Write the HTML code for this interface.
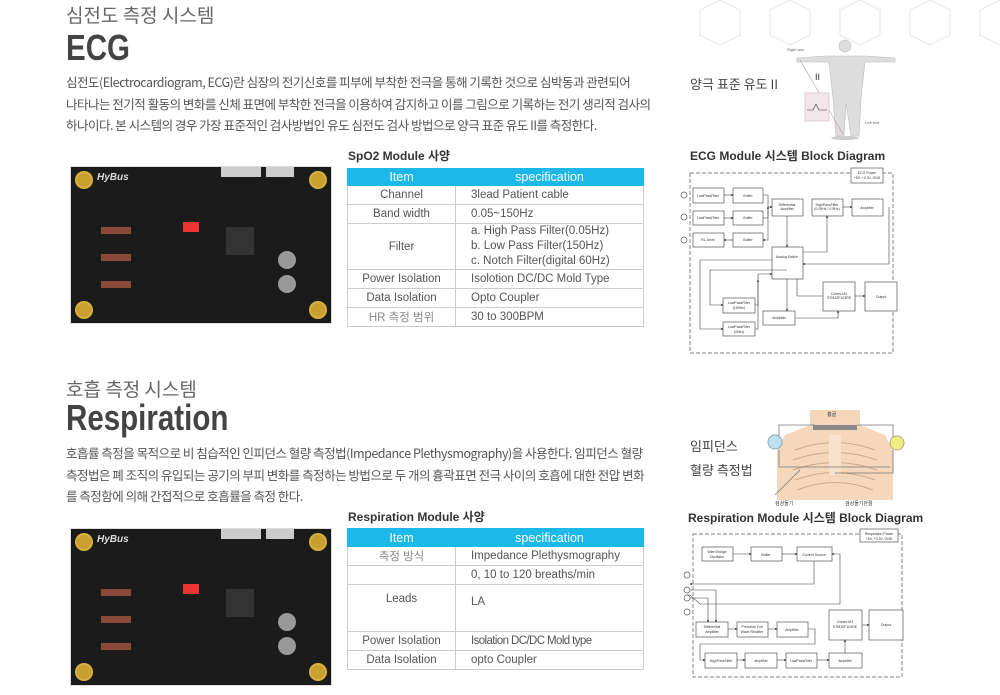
<!DOCTYPE html>
<html><head><meta charset="utf-8"><style>
body{margin:0;width:1000px;height:695px;background:#fff;position:relative;overflow:hidden;font-family:"Liberation Sans","Noto Sans CJK KR",sans-serif;color:#555}
.a{position:absolute;white-space:nowrap}
.h1{font-size:19px;line-height:22px;color:#666;font-family:"Noto Sans CJK KR",sans-serif}
.big{font-size:36px;line-height:36px;font-weight:bold;color:#444;font-family:"Liberation Sans",sans-serif;transform:scaleX(0.82);transform-origin:0 0}
.p{font-size:12.5px;color:#555;line-height:21.5px;font-family:"Noto Sans CJK KR",sans-serif;letter-spacing:-0.5px}
.t{font-size:12px;font-weight:bold;color:#333;font-family:"Liberation Sans","Noto Sans CJK KR",sans-serif}
table{position:absolute;border-collapse:collapse;font-size:11.5px;color:#555;font-family:"Liberation Sans","Noto Sans CJK KR",sans-serif}
td{border:1px solid #ccc;padding:0;vertical-align:middle}
td.i{text-align:center;width:107px}
td.s{padding-left:15px}
tr.hd td{background:#1bb8e8;color:#fff;text-align:center;font-size:12.5px;border-color:#1bb8e8}
.pcb{position:absolute;background:#1b1b1b;border:1px solid #ddd}
.hole{position:absolute;width:14px;height:14px;border-radius:50%;background:#c8a030;border:2px solid #d8b040}
</style></head><body>
<svg class="a" style="left:680px;top:0" width="320" height="60"><g fill="none" stroke="#eee" stroke-width="1.5">
<polygon points="20,10 40,0 60,10 60,35 40,45 20,35"/><polygon points="90,10 110,0 130,10 130,35 110,45 90,35"/><polygon points="160,10 180,0 200,10 200,35 180,45 160,35"/><polygon points="230,10 250,0 270,10 270,35 250,45 230,35"/><polygon points="300,10 320,0 340,10 340,35 320,45 300,35"/></g></svg>

<div class="a h1" style="left:66px;top:4px">심전도 측정 시스템</div>
<div class="a big" style="left:66px;top:30px">ECG</div>
<div class="a p" style="left:66px;top:71px">심전도(Electrocardiogram, ECG)란 심장의 전기신호를 피부에 부착한 전극을 통해 기록한 것으로 심박동과 관련되어<br>나타나는 전기적 활동의 변화를 신체 표면에 부착한 전극을 이용하여 감지하고 이를 그림으로 기록하는 전기 생리적 검사의<br>하나이다. 본 시스템의 경우 가장 표준적인 검사방법인 유도 심전도 검사 방법으로 양극 표준 유도 II를 측정한다.</div>

<div class="a" style="left:690px;top:74px;font-size:13px;color:#444;font-family:'Noto Sans CJK KR',sans-serif">양극 표준 유도 II</div>
<svg class="a" style="left:785px;top:38px" width="115" height="102">
<g fill="#ddd" stroke="#bbb" stroke-width="0.6">
<circle cx="60" cy="8" r="6"/>
<path d="M40,18 L80,18 L110,20 L110,24 L80,24 L76,60 L74,98 L66,98 L61,65 L59,98 L51,98 L48,60 L44,24 L12,24 L12,20 Z"/>
</g><ellipse cx="60" cy="100" rx="14" ry="2" fill="#ccc"/>
<line x1="15" y1="22" x2="58" y2="96" stroke="#b99" stroke-width="0.6"/>
<rect x="20" y="55" width="24" height="28" fill="#f3e6ea" stroke="#dcc"/>
<path d="M22,72 l6,0 l3,-6 l3,6 l8,0" fill="none" stroke="#333" stroke-width="0.6"/>
<text x="30" y="42" font-size="9" fill="#333" font-family="Liberation Sans">II</text>
<text x="2" y="13" font-size="4" fill="#666" font-family="Liberation Sans">Right arm</text>
<text x="80" y="86" font-size="4" fill="#666" font-family="Liberation Sans">Left foot</text>
</svg>

<div class="pcb" style="left:70px;top:166px;width:260px;height:156px">
<div class="hole" style="left:4px;top:4px"></div><div class="hole" style="left:238px;top:4px"></div><div class="hole" style="left:4px;top:134px"></div><div class="hole" style="left:238px;top:134px"></div>
<div class="a" style="left:26px;top:5px;color:#ddd;font-style:italic;font-weight:bold;font-size:10px">HyBus</div>
<div class="a" style="left:112px;top:55px;width:16px;height:10px;background:#e33"></div>
<div class="a" style="left:155px;top:60px;width:28px;height:28px;background:#333"></div>
<div class="a" style="left:30px;top:60px;width:30px;height:7px;background:#8a4a3a"></div>
<div class="a" style="left:30px;top:87px;width:30px;height:7px;background:#8a4a3a"></div>
<div class="a" style="left:30px;top:114px;width:30px;height:7px;background:#8a4a3a"></div>
<div class="a" style="left:207px;top:84px;width:18px;height:18px;border-radius:50%;background:#999"></div>
<div class="a" style="left:207px;top:108px;width:18px;height:18px;border-radius:50%;background:#999"></div>
<div class="a" style="left:150px;top:0;width:40px;height:10px;background:#ccc"></div>
<div class="a" style="left:195px;top:0;width:28px;height:10px;background:#ccc"></div>
</div>

<div class="a t" style="left:348px;top:147px">SpO2 Module 사양</div>
<table style="left:347px;top:168px;width:297px">
<tr class="hd" style="height:17px"><td class="i">Item</td><td>specification</td></tr>
<tr style="height:19px"><td class="i">Channel</td><td class="s">3lead Patient cable</td></tr>
<tr style="height:19px"><td class="i">Band width</td><td class="s">0.05~150Hz</td></tr>
<tr style="height:46px"><td class="i">Filter</td><td class="s" style="line-height:15px">a. High Pass Filter(0.05Hz)<br>b. Low Pass Filter(150Hz)<br>c. Notch Filter(digital 60Hz)</td></tr>
<tr style="height:19px"><td class="i">Power Isolation</td><td class="s">Isolotion DC/DC Mold Type</td></tr>
<tr style="height:19px"><td class="i">Data Isolation</td><td class="s">Opto Coupler</td></tr>
<tr style="height:19px"><td class="i" style="color:#888">HR 측정 범위</td><td class="s">30 to 300BPM</td></tr>
</table>

<div class="a t" style="left:690px;top:147px">ECG Module 시스템 Block Diagram</div>
<svg class="a" style="left:0;top:0" width="1000" height="695" font-family="Liberation Sans" font-size="3.5" text-anchor="middle">
<defs><marker id="m" markerWidth="4" markerHeight="4" refX="3" refY="2" orient="auto"><path d="M0,0 L4,2 L0,4z" fill="#333"/></marker></defs>
<g fill="#fff" stroke="#555" stroke-width="0.7">
<rect x="690" y="173" width="203" height="180" stroke-dasharray="4,2"/>
<rect x="851" y="168" width="32" height="15"/>
<rect x="693" y="188" width="31" height="15"/><rect x="733" y="188" width="30" height="15"/>
<rect x="693" y="211" width="31" height="14"/><rect x="733" y="211" width="30" height="14"/>
<rect x="693" y="233" width="31" height="14"/><rect x="733" y="233" width="30" height="14"/>
<rect x="772" y="199" width="31" height="17"/><rect x="812" y="199" width="31" height="17"/><rect x="852" y="199" width="31" height="17"/>
<rect x="772" y="247" width="31" height="32"/>
<rect x="823" y="282" width="32" height="29"/><rect x="865" y="282" width="32" height="29"/>
<rect x="723" y="298" width="32" height="15"/><rect x="723" y="322" width="32" height="14"/>
<rect x="763" y="311" width="32" height="14"/>
<circle cx="684" cy="195" r="3"/><circle cx="684" cy="217" r="3"/><circle cx="684" cy="240" r="3"/>
</g>
<g fill="none" stroke="#444" stroke-width="0.6" marker-end="url(#m)">
<line x1="724" y1="195" x2="733" y2="195"/><line x1="724" y1="218" x2="733" y2="218"/><line x1="733" y1="240" x2="724" y2="240"/>
<polyline points="763,195 768,195 768,207 772,207"/><polyline points="763,218 768,218 768,207"/>
<polyline points="768,210 768,240 763,240"/>
<line x1="787" y1="216" x2="787" y2="247"/>
<polyline points="803,252 827,252 827,216"/><line x1="843" y1="207" x2="852" y2="207"/>
<polyline points="889,207 889,264 803,264"/>
<line x1="855" y1="296" x2="865" y2="296"/>
<polyline points="797,279 797,296 823,296" marker-end="none"/>
<line x1="787" y1="279" x2="787" y2="311"/>
<polyline points="795,318 838,318 838,311"/>
<polyline points="755,305 758,305 758,274 772,274"/>
<polyline points="755,329 758,329 758,280"/>
<polyline points="787,270 710,270 710,305 723,305"/><polyline points="772,260 700,260 700,329 723,329"/>
</g>
<g fill="#333">
<text x="867" y="174">ECG Power</text><text x="867" y="179">+5V, +3.3V, GND</text>
<text x="708" y="197">LowPassFilter</text><text x="748" y="197">Buffer</text>
<text x="708" y="219">LowPassFilter</text><text x="748" y="219">Buffer</text>
<text x="708" y="241">RL Drive</text><text x="748" y="241">Buffer</text>
<text x="787" y="206">Differential</text><text x="787" y="210">Amplifier</text>
<text x="827" y="206">HighPassFilter</text><text x="827" y="210">(0.05Hz / 0.5Hz)</text>
<text x="867" y="209">Amplifier</text>
<text x="787" y="258">Analog Switch</text>
<text x="839" y="295">Cortex-M3</text><text x="839" y="299">STM32F103RE</text>
<text x="881" y="298">Output</text>
<text x="739" y="304">LowPassFilter</text><text x="739" y="309">(150Hz)</text>
<text x="739" y="328">LowPassFilter</text><text x="739" y="333">(40Hz)</text>
<text x="779" y="319">Amplifier</text>
</g>
</svg>

<div class="a h1" style="left:66px;top:378px">호흡 측정 시스템</div>
<div class="a big" style="left:66px;top:400px">Respiration</div>
<div class="a p" style="left:66px;top:442px">호흡률 측정을 목적으로 비 침습적인 인피던스 혈량 측정법(Impedance Plethysmography)을 사용한다. 임피던스 혈량<br>측정법은 폐 조직의 유입되는 공기의 부피 변화를 측정하는 방법으로 두 개의 흉곽표면 전극 사이의 호흡에 대한 전압 변화<br>를 측정함에 의해 간접적으로 호흡률을 측정 한다.</div>

<div class="a" style="left:690px;top:434px;font-size:13px;color:#444;line-height:24px;font-family:'Noto Sans CJK KR',sans-serif">임피던스<br>혈량 측정법</div>
<svg class="a" style="left:765px;top:405px" width="145" height="105" font-family="Noto Sans CJK KR" font-size="5">
<path d="M45,5 L45,20 L20,30 L12,45 L12,95 L128,95 L128,45 L120,30 L95,20 L95,5 Z" fill="#f5d8bc"/>
<rect x="48" y="20" width="44" height="5" fill="#888"/>
<g fill="none" stroke="#cba88a" stroke-width="1"><path d="M30,45 Q70,30 110,45"/><path d="M28,55 Q70,40 112,55"/><path d="M28,65 Q70,50 112,65"/><path d="M30,75 Q70,60 110,75"/><path d="M32,85 Q70,70 108,85"/></g>
<rect x="64" y="30" width="12" height="40" fill="#f8e2cc"/>
<g fill="none" stroke="#777" stroke-width="0.8"><polyline points="14,33 14,20 50,20"/><polyline points="14,45 14,62 125,62"/><polyline points="128,33 128,20 92,20"/><polyline points="128,45 128,68 70,68"/><line x1="35" y1="65" x2="10" y2="90"/></g>
<circle cx="10" cy="37" r="7" fill="#bfe0f0" stroke="#8ab"/><circle cx="132" cy="38" r="7" fill="#f0ec80" stroke="#aa8"/>
<text x="62" y="11" fill="#333">흉골</text><text x="10" y="100" fill="#333">검상돌기</text><text x="80" y="100" fill="#333">검상돌기관절</text>
</svg>

<div class="pcb" style="left:70px;top:528px;width:260px;height:156px">
<div class="hole" style="left:4px;top:4px"></div><div class="hole" style="left:238px;top:4px"></div><div class="hole" style="left:4px;top:134px"></div><div class="hole" style="left:238px;top:134px"></div>
<div class="a" style="left:26px;top:5px;color:#ddd;font-style:italic;font-weight:bold;font-size:10px">HyBus</div>
<div class="a" style="left:112px;top:55px;width:16px;height:10px;background:#e33"></div>
<div class="a" style="left:155px;top:60px;width:28px;height:28px;background:#333"></div>
<div class="a" style="left:30px;top:60px;width:30px;height:7px;background:#8a4a3a"></div>
<div class="a" style="left:30px;top:87px;width:30px;height:7px;background:#8a4a3a"></div>
<div class="a" style="left:30px;top:114px;width:30px;height:7px;background:#8a4a3a"></div>
<div class="a" style="left:207px;top:84px;width:18px;height:18px;border-radius:50%;background:#999"></div>
<div class="a" style="left:207px;top:108px;width:18px;height:18px;border-radius:50%;background:#999"></div>
<div class="a" style="left:150px;top:0;width:40px;height:10px;background:#ccc"></div>
<div class="a" style="left:195px;top:0;width:28px;height:10px;background:#ccc"></div>
</div>

<div class="a t" style="left:348px;top:508px">Respiration Module 사양</div>
<table style="left:347px;top:528px;width:297px">
<tr class="hd" style="height:18px"><td class="i">Item</td><td>specification</td></tr>
<tr style="height:19px"><td class="i" style="color:#888">측정 방식</td><td class="s">Impedance Plethysmography</td></tr>
<tr style="height:19px"><td class="i"></td><td class="s">0, 10 to 120 breaths/min</td></tr>
<tr style="height:47px"><td class="i" style="vertical-align:top;padding-top:8px">Leads</td><td class="s" style="vertical-align:top;padding-top:11px">LA</td></tr>
<tr style="height:19px"><td class="i">Power Isolation</td><td class="s" style="letter-spacing:-0.6px">Isolation DC/DC Mold type</td></tr>
<tr style="height:19px"><td class="i">Data Isolation</td><td class="s">opto Coupler</td></tr>
</table>

<div class="a t" style="left:688px;top:509px">Respiration Module 시스템 Block Diagram</div>
<svg class="a" style="left:0;top:0" width="1000" height="695" font-family="Liberation Sans" font-size="3.5" text-anchor="middle">
<defs><marker id="n" markerWidth="4" markerHeight="4" refX="3" refY="2" orient="auto"><path d="M0,0 L4,2 L0,4z" fill="#333"/></marker></defs>
<g fill="#fff" stroke="#555" stroke-width="0.7">
<rect x="693" y="534" width="209" height="143" stroke-dasharray="4,2"/>
<rect x="860" y="529" width="38" height="13"/>
<rect x="702" y="547" width="31" height="14"/><rect x="751" y="547" width="31" height="14"/><rect x="797" y="547" width="35" height="14"/>
<rect x="696" y="622" width="32" height="15"/><rect x="737" y="622" width="31" height="15"/><rect x="777" y="622" width="31" height="15"/>
<rect x="829" y="610" width="33" height="30"/><rect x="869" y="610" width="34" height="30"/>
<rect x="705" y="653" width="32" height="15"/><rect x="745" y="653" width="32" height="15"/><rect x="786" y="653" width="31" height="15"/><rect x="829" y="653" width="33" height="15"/>
<circle cx="687" cy="575" r="3"/><circle cx="687" cy="590" r="3"/><circle cx="687" cy="598" r="3"/><circle cx="687" cy="612" r="3"/>
</g>
<g fill="none" stroke="#444" stroke-width="0.6" marker-end="url(#n)">
<line x1="733" y1="554" x2="751" y2="554"/><line x1="782" y1="554" x2="797" y2="554"/>
<polyline points="814,561 814,584 690,584"/>
<polyline points="687,595 690,595 700,604 840,604 840,554 832,554"/>
<polyline points="690,590 716,590 716,622"/><polyline points="690,598 708,598 708,622"/>
<line x1="728" y1="629" x2="737" y2="629"/><line x1="768" y1="629" x2="777" y2="629"/>
<polyline points="808,629 815,629 815,644 700,644 700,660 705,660"/>
<line x1="737" y1="660" x2="745" y2="660"/><line x1="777" y1="660" x2="786" y2="660"/><line x1="817" y1="660" x2="829" y2="660"/>
<line x1="845" y1="653" x2="845" y2="640"/><line x1="862" y1="625" x2="869" y2="625"/>
</g>
<g fill="#333">
<text x="879" y="535">Respiration Power</text><text x="879" y="540">+5V, +3.3V, GND</text>
<text x="717" y="553">Wien Bridge</text><text x="717" y="558">Oscillator</text>
<text x="766" y="556">Buffer</text><text x="814" y="556">Current Source</text>
<text x="712" y="628">Differential</text><text x="712" y="633">Amplifier</text>
<text x="752" y="628">Precision Full</text><text x="752" y="633">Wave Rectifier</text>
<text x="792" y="631">Amplifier</text>
<text x="845" y="623">Cortex-M3</text><text x="845" y="628">STM32F103RE</text>
<text x="886" y="626">Output</text>
<text x="721" y="662">HighPassFilter</text><text x="761" y="662">Amplifier</text><text x="801" y="662">LowPassFilter</text><text x="845" y="662">Amplifier</text>
</g>
</svg>
</body></html>
